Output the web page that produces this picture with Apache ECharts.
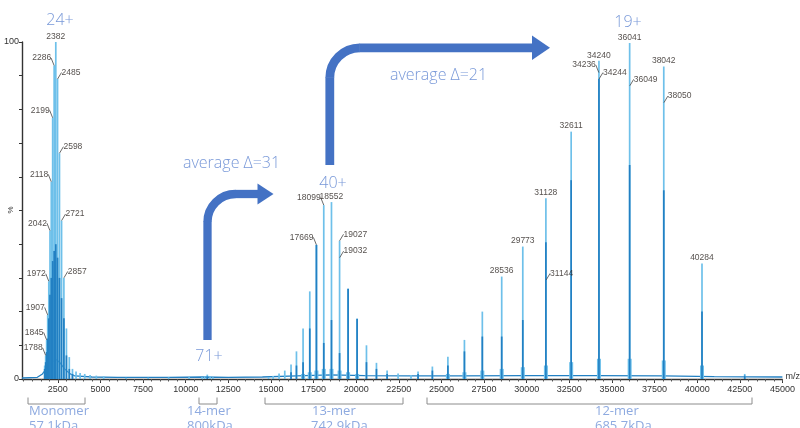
<!DOCTYPE html>
<html>
<head>
<meta charset="utf-8">
<script src="https://cdn.jsdelivr.net/npm/echarts@6/dist/echarts.min.js"></script>
<style>
html, body { margin: 0; padding: 0; background: #fff; }
#chart { width: 800px; height: 428px; }
</style>
</head>
<body>
<div id="chart"></div>
<script>
// peaks: m/z and relative intensity (%)
const lightMz = [1730, 1788, 1845, 1907, 1972, 2042, 2118, 2199, 2286, 2382, 2485, 2598, 2721, 2857, 3006, 3173, 3360, 3570, 3808, 4080, 4393, 4759, 5191,
    6500, 7800, 9000, 10200, 10960, 11112, 11268, 11430, 11595,
    14859, 15130, 15478, 15812, 16180, 16498, 16886, 17279, 17669, 18099, 18552, 19027, 19527, 20055, 20604, 21190, 21815, 22458, 23216,
    23630, 24470, 25380, 26350, 27400, 28536, 29773, 31128, 32611, 34240, 36041, 38042, 40284, 42790]
const lightPct = [4, 7, 11.6, 19, 29, 44, 58.5, 77.5, 93, 100, 89, 67, 47, 30, 15, 6.5, 3, 2.2, 1.8, 1.5, 1.2, 1, 0.8,
    0.4, 0.4, 0.5, 0.6, 0.6, 0.8, 1.3, 0.8, 0.5,
    0.5, 0.9, 1.6, 2.5, 4.3, 8.2, 15, 26, 39.8, 51.6, 52.5, 41, 26.8, 17.9, 10, 4.8, 2.5, 1.6, 1.2,
    2.2, 3.7, 6.6, 11.6, 20, 30.4, 39.3, 53.6, 73.4, 94.4, 99.7, 92.7, 34.3, 1.5]

const darkMz = [1730, 1788, 1845, 1907, 1972, 2042, 2118, 2199, 2286, 2382, 2485, 2598, 2721, 2857, 3006, 3173, 3360,
    11268,
    16180, 16498, 16886, 17279, 17669, 18099, 18552, 19027, 19527, 20055, 20604, 21190, 21815,
    23630, 24470, 25380, 26350, 27400, 28536, 29773, 31128, 32611, 34240, 36041, 38042, 40284, 42790]
const darkPct = [3, 5, 8, 12, 18, 25, 30, 35, 38, 40, 36, 30, 24, 18, 7, 3, 1.5,
    0.8,
    2, 4, 5, 15, 39.8, 10.7, 17.5, 7.7, 26.8, 17.9, 5, 3, 1.5,
    1.5, 2.5, 4, 8.2, 12.6, 12.6, 17.5, 40.6, 59, 89, 63.5, 56, 20, 1]

// broadened foot of the bigger peaks
const skirtMz = [16886, 17279, 17669, 18099, 18552, 19027, 19527, 20055,
    25380, 26350, 27400, 28536, 29773, 31128, 32611, 34240, 36041, 38042, 40284]
const skirtPct = [1.5, 2, 2.5, 3, 3, 2.5, 2, 1.5,
    1.5, 2, 2.5, 3, 3.5, 4, 5, 6, 6, 5.5, 4]

// baseline trace incl. the unresolved monomer hump
const baseMz = [400, 1300, 1600, 1900, 2200, 2400, 2600, 2900, 3200, 3500, 4500, 6000, 9000, 11000, 12500, 14500,
    16500, 18500, 20500, 23000, 26000, 30000, 34000, 38000, 41000, 45000]
const basePct = [0.3, 0.5, 1.5, 3.5, 5.2, 5.8, 5.0, 3, 1.6, 0.9, 0.6, 0.5, 0.5, 0.6, 0.5, 0.6,
    0.9, 1.2, 1, 0.9, 0.9, 1, 1, 0.9, 0.7, 0.6]

// annotated peaks: value, height, side of the label
const labelMz = [2382, 2286, 2485, 2199, 2598, 2118, 2042, 2721, 1972, 2857, 1907, 1845, 1788,
    17669, 18099, 18552, 19027, 19032,
    28536, 29773, 31128, 31144, 32611, 34240, 34236, 34244, 36041, 36049, 38042, 38050, 40284]
const labelPct = [100, 93, 89, 77.5, 67, 58.5, 44, 47, 29, 30, 19, 11.6, 7,
    39.8, 51.6, 52.5, 41, 36,
    30.4, 39.3, 53.6, 29.4, 73.4, 94.4, 90.9, 89, 99.7, 87, 92.7, 82, 34.3]
const labelSide = ['t', 'l', 'r', 'l', 'r', 'l', 'l', 'r', 'l', 'r', 'l', 'l', 'l',
    'l', 'l', 't', 'r', 'r',
    't', 't', 't', 'r', 't', 't', 'l', 'r', 't', 'r', 't', 'r', 't']

const majorTicks = [2500, 5000, 7500, 10000, 12500, 15000, 17500, 20000, 22500, 25000, 27500, 30000,
    32500, 35000, 37500, 40000, 42500, 45000]
const minorTicks = []
for (let v = 500; v <= 45000; v += 500) minorTicks.push(v)

const pairs = (xs, ys) => xs.map((x, i) => [x, ys[i]])

const LIGHT = '#6ec0ea'
const DARK = '#2280c3'
const NOTE = '#7898d8'
const ARROW = '#4472c4'

const chart = echarts.init(document.getElementById('chart'))

const noteText = (text, x, y, align) => ({
    type: 'text', x: x, y: y, z: 50,
    style: { text: text, fill: NOTE, font: '300 16px "Open Sans"', align: align || 'center', verticalAlign: 'middle' }
})
const bracket = (x1, x2) => ({
    type: 'polyline', z: 50,
    shape: { points: [[x1, 397.5], [x1, 404], [x2, 404], [x2, 397.5]] },
    style: { stroke: '#8c8c8c', lineWidth: 1, fill: null }
})
const underText = (text, x, y) => ({
    type: 'text', x: x, y: y, z: 50,
    style: { text: text, fill: '#8eaae0', font: '13px "Open Sans"', align: 'left', verticalAlign: 'middle' }
})
// bent arrow: vertical shaft, rounded corner, horizontal shaft, head
const bentArrow = (x0, yBottom, yTop, r, xEnd, w, head) => [
    { type: 'line', z: 40, shape: { x1: x0, y1: yBottom, x2: x0, y2: yTop + r - 0.5 }, style: { stroke: ARROW, lineWidth: w } },
    {
        type: 'bezierCurve', z: 40,
        shape: { x1: x0, y1: yTop + r, cpx1: x0, cpy1: yTop + r * 0.448, cpx2: x0 + r * 0.448, cpy2: yTop, x2: x0 + r, y2: yTop },
        style: { stroke: ARROW, lineWidth: w, fill: null }
    },
    { type: 'line', z: 40, shape: { x1: x0 + r - 0.5, y1: yTop, x2: xEnd + 0.5, y2: yTop }, style: { stroke: ARROW, lineWidth: w } },
    { type: 'polygon', z: 40, shape: { points: [[xEnd, yTop - head[0]], [xEnd + head[1], yTop], [xEnd, yTop + head[0]]] }, style: { fill: ARROW } }
]

const option = {
    animation: false,
    grid: { left: 22, right: 17.6, top: 42, bottom: 49, outerBoundsMode: 'none' },
    xAxis: [
        {
            type: 'value', min: 400, max: 45000,
            name: 'm/z', nameLocation: 'end', nameGap: 3,
            nameTextStyle: { fontSize: 9, color: '#333', fontFamily: 'Arial', verticalAlign: 'bottom', padding: [0, 0, -2, 0] },
            axisLine: { lineStyle: { color: '#333', width: 1.4 } },
            axisTick: { customValues: majorTicks, length: 4, lineStyle: { color: '#333' } },
            axisLabel: {
                customValues: majorTicks, fontSize: 9, color: '#333', fontFamily: 'Arial', margin: 6,
                formatter: v => String(v)
            },
            splitLine: { show: false }
        },
        {
            type: 'value', min: 400, max: 45000, position: 'bottom',
            axisLine: { show: false },
            axisTick: { customValues: minorTicks, length: 2.5, lineStyle: { color: '#555' } },
            axisLabel: { show: false },
            splitLine: { show: false }
        }
    ],
    yAxis: {
        type: 'value', min: 0, max: 100, interval: 10,
        axisLine: { show: true, lineStyle: { color: '#333', width: 1.4 } },
        axisTick: { show: true, length: 3, lineStyle: { color: '#333' } },
        axisLabel: {
            fontSize: 9, color: '#333', fontFamily: 'Arial', margin: 3,
            formatter: v => (v === 0 || v === 100 ? String(v) : '')
        },
        splitLine: { show: false }
    },
    series: [
        {
            name: 'baseline', type: 'line', data: pairs(baseMz, basePct),
            symbol: 'none', lineStyle: { color: DARK, width: 1.3 }, z: 1
        },
        {
            name: 'skirt', type: 'bar', xAxisIndex: 1, data: pairs(skirtMz, skirtPct),
            barWidth: 4, itemStyle: { color: LIGHT }, z: 2
        },
        {
            name: 'light', type: 'bar', data: pairs(lightMz, lightPct),
            barWidth: 1.7, barGap: '-100%', itemStyle: { color: LIGHT }, z: 3
        },
        {
            name: 'dark', type: 'bar', data: pairs(darkMz, darkPct),
            barWidth: 1.7, barGap: '-100%', itemStyle: { color: DARK }, z: 4
        },
        {
            name: 'labels', type: 'scatter',
            data: labelMz.map((x, i) => ({ value: [x, labelPct[i]], labelLine: { show: labelSide[i] !== 't' } })),
            symbolSize: 0.1, itemStyle: { color: 'rgba(0,0,0,0)' }, z: 10,
            label: {
                show: true, position: 'top', distance: 1,
                formatter: p => String(labelMz[p.dataIndex]),
                fontSize: 8.5, color: '#2b2420', fontFamily: 'Arial'
            },
            labelLine: { show: true, lineStyle: { color: '#444', width: 0.8 } },
            labelLayout: p => {
                const side = labelSide[p.dataIndex]
                const r = p.rect
                if (side === 'l') return { x: r.x - 3, y: r.y - 3, align: 'right', verticalAlign: 'bottom' }
                if (side === 'r') return { x: r.x + 4, y: r.y - 2, align: 'left', verticalAlign: 'bottom' }
                return { x: r.x, y: r.y - 1, align: 'center', verticalAlign: 'bottom' }
            }
        }
    ],
    graphic: [].concat(
        bentArrow(207.5, 340, 194, 28, 257.5, 8.3, [10.5, 16]),
        bentArrow(329.8, 165, 47.8, 30, 532, 8.8, [12.3, 18]),
        [
            // y axis unit
            {
                type: 'text', x: 11, y: 210, rotation: Math.PI / 2, z: 50,
                style: { text: '%', fill: '#333', font: '8px Arial', align: 'center', verticalAlign: 'middle' }
            },
            // charge states and spacings
            noteText('24+', 60, 20),
            noteText('19+', 628, 22),
            noteText('40+', 333, 183),
            noteText('71+', 209, 356),
            noteText('average Δ=31', 183, 163, 'left'),
            noteText('average Δ=21', 390, 75, 'left'),
            // oligomer brackets
            bracket(28, 85),
            bracket(199, 217),
            bracket(265, 403),
            bracket(427, 752),
            underText('Monomer', 29, 411),
            underText('57.1kDa', 29, 426),
            underText('14-mer', 187, 411),
            underText('800kDa', 187, 426),
            underText('13-mer', 312, 411),
            underText('742.9kDa', 311, 426),
            underText('12-mer', 595, 411),
            underText('685.7kDa', 595, 426)
        ]
    )
}

chart.setOption(option)
</script>
</body>
</html>
